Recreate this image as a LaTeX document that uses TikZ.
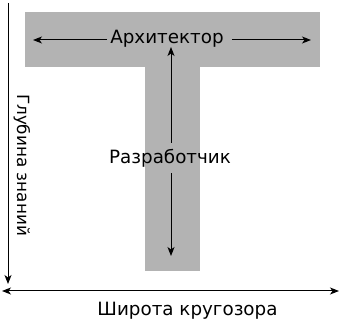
\documentclass[tikz,border=0pt]{standalone}
\usepackage{fontspec}
\setmainfont{DejaVu Sans}
\usetikzlibrary{arrows.meta, positioning}
\definecolor{tgray}{HTML}{B3B3B3}

\tikzset{
  lbl/.style={font=\fontsize{18.3}{20}\selectfont, inner sep=3pt},
  axis/.style={line width=1pt, -{Stealth[length=9pt, width=7pt, inset=2.5pt]}},
}

\begin{document}
\begin{tikzpicture}[x=1pt, y=-1pt]
\useasboundingbox (0,0) rectangle (351,323);

% T shape
\fill[tgray] (25,12) rectangle (320,67);
\fill[tgray] (145,67) rectangle (200,271);

% labels inside the T
\node[lbl] (arch) at (167,38.5) {Архитектор};
\node[lbl, inner sep=6pt] (dev) at (170,158) {Разработчик};
\coordinate (archL) at (33,40);
\coordinate (archR) at (311,40);
\coordinate (devT) at (171,47);
\coordinate (devB) at (171,256);
\draw[axis] (arch.west |- archL) -- (archL);
\draw[axis] ([xshift=5pt]arch.east |- archR) -- (archR);
\draw[axis] (dev.north -| devT) -- (devT);
\draw[axis] (dev.south -| devB) -- (devB);

% axes
\coordinate (depthTop) at (8,3);
\coordinate (depthEnd) at (8,284);
\draw[axis] (depthTop) -- (depthEnd);
\node[lbl, font=\fontsize{16.8}{18}\selectfont, rotate=-90] (depth) at (22,165) {Глубина знаний};

\coordinate (wideL) at (2,291);
\coordinate (wideR) at (339,291);
\draw[axis, {Stealth[length=9pt, width=7pt, inset=2.5pt]}-{Stealth[length=9pt, width=7pt, inset=2.5pt]}] (wideL) -- (wideR);
\node[lbl] (wide) at (187.5,310.5) {Широта кругозора};

\end{tikzpicture}
\end{document}
